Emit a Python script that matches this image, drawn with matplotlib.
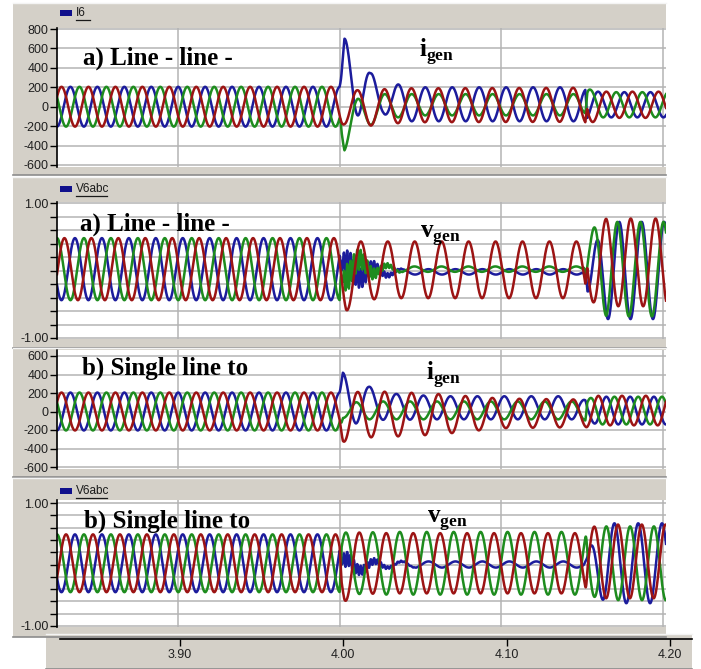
import numpy as np
import matplotlib.pyplot as plt
from matplotlib.patches import Rectangle
from matplotlib.lines import Line2D

plt.rcParams["mathtext.fontset"] = "custom"
plt.rcParams["mathtext.bf"] = "Liberation Serif:bold"
plt.rcParams["mathtext.rm"] = "Liberation Serif"

W, H = 701, 669
T0, T1 = 3.8252, 4.2019
T_FAULT, T_CLEAR = 4.000, 4.152

BLUE = "#1c1c9c"
RED = "#9c1414"
GREEN = "#1e8c1e"
FRAME = "#d4d0c8"
GRID = "#b4b4b4"

# ---- a) line-line fault, generator current I6 ----
K1 = [T0, 4.000, 4.003, 4.011, 4.019, 4.027, 4.036, 4.050, 4.150, 4.154, 4.162, T1]
I1_BLUE_AMP = [205, 205, 400, 390, 220, 160, 190, 175, 175, 150, 130, 130]
I1_BLUE_OFF = [0, 0, 300, 300, 130, 90, 40, 25, 25, 20, 20, 20]
I1_BLUE_PEAK = [3.8335, 4.003, 4.160]
I1_RED_AMP = [205, 205, 190, 180, 185, 180, 180, 175, 175, 170, 135, 135]
I1_RED_OFF = [0, 0, 10, -10, -10, 0, 10, 15, 20, -10, 20, 20]
I1_RED_PEAK = [3.8280, 4.0111, 4.165]
I1_GREEN_AMP = [205, 205, 220, 160, 150, 130, 120, 110, 110, 120, 130, 130]
I1_GREEN_OFF = [0, 0, -230, -80, -40, 0, 10, 20, 20, 60, 20, 20]
I1_GREEN_PEAK = [3.8391, 4.0113, 4.155]
F1 = [60, 60, 62]

# ---- a) line-line fault, generator voltage V6abc ----
K2 = [T0, 4.000, 4.004, 4.012, 4.025, 4.040, 4.150, 4.154, 4.165, T1]
V2_RED_AMP = [0.46, 0.46, 0.50, 0.45, 0.42, 0.42, 0.42, 0.50, 0.65, 0.65]
V2_RED_OFF = [0.02, 0.02, -0.10, -0.02, 0.01, 0.01, 0.01, 0.05, 0.12, 0.12]
V2_RED_PEAK = [3.8298, 3.8298, 4.1647]
V2_RED_F = [60, 60, 65]
V2_BLUE_AMP = [0.46, 0.46, 0.15, 0.12, 0.06, 0.04, 0.04, 0.30, 0.72, 0.72]
V2_BLUE_OFF = [0.02, 0.02, -0.05, 0.00, -0.02, -0.02, -0.02, -0.10, 0.00, 0.00]
V2_BLUE_PEAK = [3.8363, 4.005, 4.173]
V2_BLUE_F = [60, 60, 72]
V2_GREEN_AMP = [0.46, 0.46, 0.20, 0.12, 0.06, 0.04, 0.04, 0.40, 0.70, 0.70]
V2_GREEN_OFF = [0.02, 0.02, 0.10, 0.05, 0.02, 0.02, 0.02, 0.20, 0.02, 0.02]
V2_GREEN_PEAK = [3.8252, 4.013, 4.1575]
V2_GREEN_F = [60, 60, 70]
V2_RING = [0, 0, 0.20, 0.15, 0.05, 0, 0, 0, 0, 0]

# ---- b) single line to ground fault, generator current I6 ----
K3 = [T0, 4.000, 4.002, 4.010, 4.018, 4.035, 4.060, 4.100, 4.148, 4.153, 4.160, T1]
I3_BLUE_AMP = [205, 205, 270, 250, 180, 140, 125, 125, 125, 110, 150, 150]
I3_BLUE_OFF = [0, 0, 150, 120, 90, 50, 40, 40, 40, 0, 10, 10]
I3_BLUE_PEAK = [3.8335, 4.0019, 4.165]
I3_RED_AMP = [205, 205, 260, 250, 250, 240, 220, 160, 150, 150, 160, 160]
I3_RED_OFF = [0, 0, -70, -40, -30, -30, -30, -20, -20, -20, 10, 10]
I3_RED_PEAK = [3.8280, 4.0112, 4.160]
I3_GREEN_AMP = [205, 205, 60, 90, 97, 97, 97, 97, 97, 120, 150, 150]
I3_GREEN_OFF = [0, 0, -10, 10, 12, 12, 12, 12, 12, 20, 10, 10]
I3_GREEN_PEAK = [3.8391, 4.0102, 4.170]
F3 = [60, 60, 68]

# ---- b) single line to ground fault, generator voltage V6abc ----
K4 = [T0, 4.000, 4.003, 4.012, 4.030, 4.050, 4.150, 4.154, 4.165, T1]
V4_RED_AMP = [0.47, 0.47, 0.55, 0.50, 0.49, 0.49, 0.49, 0.55, 0.60, 0.60]
V4_RED_OFF = [0.02, 0.02, -0.05, 0.02, 0.02, 0.02, 0.02, 0.05, 0.05, 0.05]
V4_RED_PEAK = [3.8308, 4.0122, 4.1575]
V4_GREEN_AMP = [0.47, 0.47, 0.50, 0.50, 0.51, 0.51, 0.51, 0.55, 0.60, 0.60]
V4_GREEN_OFF = [0.02, 0.02, 0.02, 0.02, 0.02, 0.02, 0.02, 0.05, 0.02, 0.02]
V4_GREEN_PEAK = [3.8252, 4.0039, 4.165]
V4_BLUE_AMP = [0.47, 0.47, 0.15, 0.08, 0.05, 0.05, 0.05, 0.30, 0.65, 0.65]
V4_BLUE_OFF = [0.02, 0.02, -0.05, -0.02, 0.00, 0.00, 0.00, -0.05, 0.02, 0.02]
V4_BLUE_PEAK = [3.8363, 4.005, 4.170]
V4_RING = [0, 0, 0.12, 0.08, 0.02, 0, 0, 0, 0, 0]
F4 = [60, 60, 68]

RING_HZ = 480
X_TICKS = [3.90, 4.00, 4.10, 4.20]
X_LABELS = ["3.90", "4.00", "4.10", "4.20"]

t = np.linspace(T0, T1, 8000)


def wave(knots, amp, off, peaks, freqs, ring=None, blend=0.0012):
    a = np.interp(t, knots, amp)
    o = np.interp(t, knots, off)
    segs = [np.cos(2 * np.pi * f * (t - p)) for p, f in zip(peaks, freqs)]
    y = segs[0]
    for edge, s in zip([T_FAULT, T_CLEAR], segs[1:]):
        w = np.clip((t - edge) / blend, 0, 1)
        y = (1 - w) * y + w * s
    y = o + a * y
    if ring is not None:
        y = y + np.interp(t, knots, ring) * np.sin(2 * np.pi * RING_HZ * (t - T_FAULT))
    return y


def fig_box(x0, y0, x1, y1):
    return [x0 / W, 1 - y1 / H, (x1 - x0) / W, (y1 - y0) / H]


def frame(x0, y0, x1, y1):
    fig.add_artist(Rectangle((x0 / W, 1 - y1 / H), (x1 - x0) / W, (y1 - y0) / H,
                             transform=fig.transFigure, facecolor=FRAME,
                             edgecolor="none", zorder=0))
    fig.add_artist(Line2D([x0 / W, x1 / W], [1 - y1 / H, 1 - y1 / H],
                          transform=fig.transFigure, color="#8c8c8c", lw=1.2))
    fig.add_artist(Line2D([x0 / W, x1 / W], [1 - y0 / H, 1 - y0 / H],
                          transform=fig.transFigure, color="#f4f4f4", lw=1.0))


def legend_tag(y, label):
    fig.add_artist(Rectangle((60 / W, 1 - (y + 3) / H), 12 / W, 6 / H,
                             transform=fig.transFigure, facecolor="#10108c",
                             edgecolor="none"))
    fig.text(76 / W, 1 - y / H, label, fontsize=8.5, family="Liberation Sans",
             va="center", ha="left", color="#1a1a1a")
    fig.add_artist(Line2D([76 / W, (76 + 5.8 * len(label) + 2) / W],
                          [1 - (y + 7) / H] * 2, transform=fig.transFigure,
                          color="#1a1a1a", lw=0.9))


def panel(y0, y1, top_px, top_val, bot_px, bot_val, ticks, labels):
    ax = fig.add_axes(fig_box(57, y0, 666, y1))
    scale = (top_val - bot_val) / (bot_px - top_px)
    ax.set_ylim(bot_val - (y1 - bot_px) * scale, top_val + (top_px - y0) * scale)
    ax.set_xlim(T0, T1)
    ax.set_facecolor("white")
    for s in ["top", "right", "bottom"]:
        ax.spines[s].set_visible(False)
    ax.spines["left"].set_linewidth(1.2)
    ax.set_yticks(ticks)
    ax.set_yticklabels(labels, fontsize=9, family="Liberation Sans", color="#202020")
    ax.tick_params(axis="y", direction="out", length=5, width=1, pad=1)
    ax.set_xticks([])
    for v in ticks:
        ax.axhline(v, color=GRID, lw=1.1, zorder=1)
    for x in X_TICKS:
        ax.axvline(x, color=GRID, lw=1.1, zorder=1)
    return ax


fig = plt.figure(figsize=(W / 100, H / 100), dpi=100)
fig.patch.set_facecolor("white")

frame(13, 3, 666, 175)
frame(13, 177, 666, 348)
frame(13, 348, 666, 477)
frame(13, 478, 666, 637)
frame(46, 634, 692, 669)

legend_tag(13, "I6")
legend_tag(189, "V6abc")
legend_tag(491, "V6abc")

cur_ticks = [800, 600, 400, 200, 0, -200, -400, -600]
cur_labels = [str(v) for v in cur_ticks]
vol_ticks = [1.0, 0.8, 0.6, 0.4, 0.2, 0.0, -0.2, -0.4, -0.6, -0.8, -1.0]
vol_labels = ["1.00"] + [""] * 9 + ["-1.00"]

ax1 = panel(28, 167, 29, 800, 165, -600, cur_ticks, cur_labels)
ax2 = panel(202, 339, 203, 1.0, 338, -1.0, vol_ticks, vol_labels)
ax3 = panel(350, 469, 356, 600, 467, -600, cur_ticks[1:], cur_labels[1:])
ax4 = panel(500, 627, 503, 1.0, 626, -1.0, vol_ticks, vol_labels)

lw = 1.8
ax1.plot(t, wave(K1, I1_BLUE_AMP, I1_BLUE_OFF, I1_BLUE_PEAK, F1), color=BLUE, lw=lw)
ax1.plot(t, wave(K1, I1_GREEN_AMP, I1_GREEN_OFF, I1_GREEN_PEAK, F1), color=GREEN, lw=lw)
ax1.plot(t, wave(K1, I1_RED_AMP, I1_RED_OFF, I1_RED_PEAK, F1), color=RED, lw=lw)

ax2.plot(t, wave(K2, V2_BLUE_AMP, V2_BLUE_OFF, V2_BLUE_PEAK, V2_BLUE_F, V2_RING), color=BLUE, lw=lw)
ax2.plot(t, wave(K2, V2_GREEN_AMP, V2_GREEN_OFF, V2_GREEN_PEAK, V2_GREEN_F, V2_RING), color=GREEN, lw=lw)
ax2.plot(t, wave(K2, V2_RED_AMP, V2_RED_OFF, V2_RED_PEAK, V2_RED_F), color=RED, lw=lw)

ax3.plot(t, wave(K3, I3_BLUE_AMP, I3_BLUE_OFF, I3_BLUE_PEAK, F3), color=BLUE, lw=lw)
ax3.plot(t, wave(K3, I3_GREEN_AMP, I3_GREEN_OFF, I3_GREEN_PEAK, F3), color=GREEN, lw=lw)
ax3.plot(t, wave(K3, I3_RED_AMP, I3_RED_OFF, I3_RED_PEAK, F3), color=RED, lw=lw)

ax4.plot(t, wave(K4, V4_BLUE_AMP, V4_BLUE_OFF, V4_BLUE_PEAK, F4, V4_RING), color=BLUE, lw=lw)
ax4.plot(t, wave(K4, V4_GREEN_AMP, V4_GREEN_OFF, V4_GREEN_PEAK, F4), color=GREEN, lw=lw)
ax4.plot(t, wave(K4, V4_RED_AMP, V4_RED_OFF, V4_RED_PEAK, F4), color=RED, lw=lw)

# shared time axis at the bottom
axb = fig.add_axes(fig_box(60, 638, 692, 639))
axb.set_xlim(3.90 - 120 / 1633, 4.20 + 22 / 1633)
axb.patch.set_visible(False)
for s in ["top", "right", "left"]:
    axb.spines[s].set_visible(False)
axb.spines["bottom"].set_linewidth(1.2)
axb.set_yticks([])
axb.set_xticks(X_TICKS)
axb.set_xticklabels(X_LABELS, fontsize=9, family="Liberation Sans", color="#202020")
axb.tick_params(axis="x", direction="out", length=5, width=1, pad=2)

# panel captions
cap = dict(fontsize=18, family="Liberation Serif", fontweight="bold", va="baseline")
fig.text(83 / W, 1 - 65 / H, "a) Line - line -", **cap)
fig.text(80 / W, 1 - 231 / H, "a) Line - line -", **cap)
fig.text(82 / W, 1 - 375 / H, "b) Single line to", **cap)
fig.text(84 / W, 1 - 528 / H, "b) Single line to", **cap)
fig.text(419 / W, 1 - 57 / H, r"$\mathbf{i}_{\mathbf{gen}}$", fontsize=18, va="baseline")
fig.text(420 / W, 1 - 238 / H, r"$\mathbf{v}_{\mathbf{gen}}$", fontsize=18, va="baseline")
fig.text(426 / W, 1 - 380 / H, r"$\mathbf{i}_{\mathbf{gen}}$", fontsize=18, va="baseline")
fig.text(427 / W, 1 - 523 / H, r"$\mathbf{v}_{\mathbf{gen}}$", fontsize=18, va="baseline")

fig.savefig("out.png", dpi=100)
